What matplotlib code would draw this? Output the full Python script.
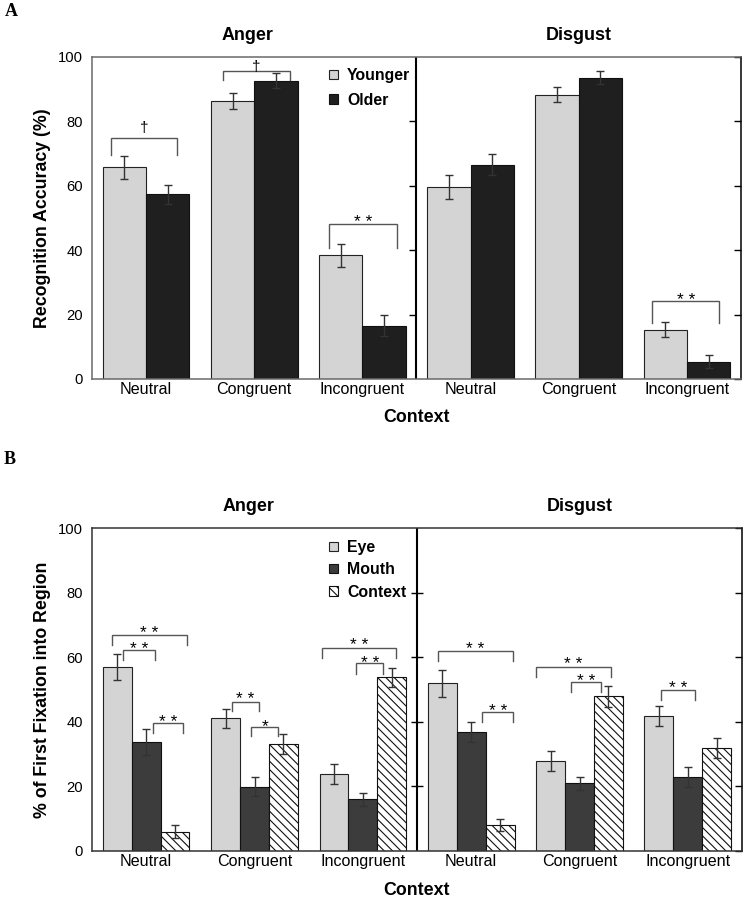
import numpy as np
import matplotlib
matplotlib.use('Agg')
import matplotlib.pyplot as plt

# 数据
conditions = ['Neutral', 'Congruent', 'Incongruent']
emotions = ['Anger', 'Disgust']
tick_labels = conditions * 2

# A: recognition accuracy (Anger N/C/I, Disgust N/C/I)
acc_younger = [65.7, 86.4, 38.4, 59.6, 88.3, 15.3]
acc_younger_err = [3.5, 2.5, 3.6, 3.6, 2.4, 2.3]
acc_older = [57.3, 92.7, 16.6, 66.6, 93.6, 5.4]
acc_older_err = [3.0, 2.2, 3.2, 3.2, 2.1, 2.0]

# B: first fixation into region
fix_eye = [56.9, 41.1, 23.8, 51.9, 27.9, 41.8]
fix_eye_err = [4.1, 3.0, 3.0, 4.1, 3.1, 3.2]
fix_mouth = [33.8, 19.9, 16.0, 36.9, 21.0, 22.8]
fix_mouth_err = [4.0, 3.0, 2.1, 3.1, 2.0, 3.1]
fix_context = [6.0, 33.1, 53.8, 8.0, 47.9, 31.8]
fix_context_err = [2.0, 3.1, 3.0, 1.9, 3.2, 3.1]

# significance brackets: (group, x_left, x_right, top, leg_bottom, label, label_y)
sig_a = [
    (0, -0.32, 0.29, 74.9, 69.5, '\u2020', 76.6),
    (1, -0.29, 0.33, 95.7, 92.9, '\u2020', 95.8),
    (2, -0.31, 0.32, 48.0, 40.6, '* *', 47.7),
    (5, -0.32, 0.30, 24.2, 17.5, '* *', 23.6),
]
sig_b = [
    (0, -0.32, 0.38, 66.9, 63.9, '* *', 66.5),
    (0, -0.21, 0.08, 62.2, 59.2, '* *', 61.5),
    (0, 0.06, 0.34, 39.6, 36.6, '* *', 39.1),
    (1, -0.21, 0.04, 46.1, 43.2, '* *', 46.0),
    (1, -0.03, 0.22, 38.4, 35.5, '*', 37.7),
    (2, -0.38, 0.31, 63.0, 59.7, '* *', 62.9),
    (2, -0.06, 0.19, 58.1, 54.8, '* *', 57.3),
    (3, -0.31, 0.39, 62.0, 58.9, '* *', 61.5),
    (3, 0.10, 0.39, 43.0, 39.9, '* *', 42.5),
    (4, -0.40, 0.29, 57.1, 53.9, '* *', 56.8),
    (4, -0.08, 0.20, 52.4, 49.2, '* *', 51.7),
    (5, -0.25, 0.07, 49.8, 46.6, '* *', 49.5),
]

plt.rcParams['font.family'] = ['Liberation Sans', 'DejaVu Sans']
plt.rcParams['hatch.linewidth'] = 0.8

fig = plt.figure(figsize=(7.46, 9.0), dpi=100)
axA = fig.add_axes([92 / 746, 1 - 379 / 900, 649 / 746, 322 / 900])
axB = fig.add_axes([92 / 746, 1 - 851 / 900, 650 / 746, 323 / 900])

x = np.arange(len(tick_labels))
err_kw = dict(fmt='none', ecolor='#333333', elinewidth=1.0, capsize=2.6, capthick=1.0)

# 面板 A
w = 0.4
axA.bar(x - w / 2, acc_younger, w, color='#d4d4d4', edgecolor='#222222', linewidth=0.8, label='Younger')
axA.bar(x + w / 2, acc_older, w, color='#1f1f1f', edgecolor='#111111', linewidth=0.8, label='Older')
axA.errorbar(x - w / 2, acc_younger, yerr=acc_younger_err, **err_kw)
axA.errorbar(x + w / 2, acc_older, yerr=acc_older_err, **err_kw)

# 面板 B
w3 = 0.8 / 3
axB.bar(x - w3, fix_eye, w3, color='#d4d4d4', edgecolor='#222222', linewidth=0.8, label='Eye')
axB.bar(x, fix_mouth, w3, color='#3c3c3c', edgecolor='#111111', linewidth=0.8, label='Mouth')
axB.bar(x + w3, fix_context, w3, color='white', edgecolor='#111111', linewidth=0.8,
        hatch='\\\\\\\\', label='Context')
axB.errorbar(x - w3, fix_eye, yerr=fix_eye_err, **err_kw)
axB.errorbar(x, fix_mouth, yerr=fix_mouth_err, **err_kw)
axB.errorbar(x + w3, fix_context, yerr=fix_context_err, **err_kw)


def draw_sig(ax, items):
    for g, xl, xr, top, leg, label, ly in items:
        ax.plot([g + xl, g + xl, g + xr, g + xr], [leg, top, top, leg],
                color='#555555', lw=1.0, solid_joinstyle='miter')
        if label == '\u2020':
            ax.text(g + (xl + xr) / 2, ly, label, ha='center', va='baseline', fontsize=11)
        else:
            ax.annotate(label, (g + (xl + xr) / 2, ly), xytext=(0, -1.3),
                        textcoords='offset points', ha='center', va='baseline',
                        fontsize=12.5)


draw_sig(axA, sig_a)
draw_sig(axB, sig_b)

yticks = [0, 20, 40, 60, 80, 100]
title_x = [0.94, 4.0]
for ax, ylabel, spine_col, tick_marker, title_y in [
        (axA, 'Recognition Accuracy (%)', '#6a6a6a', 0, 1.068),
        (axB, '% of First Fixation into Region', '#333333', '_', 1.066)]:
    ax.set_xlim(-0.5, 5.5)
    ax.set_ylim(0, 100)
    ax.set_yticks(yticks)
    ax.set_xticks(x, labels=tick_labels)
    ax.tick_params(axis='x', length=0, pad=2.5, labelsize=11.6)
    ax.tick_params(axis='y', left=False, right=True, direction='in', length=5,
                   width=1, color='black', labelsize=10.6, pad=6.5)
    for s in ['left', 'top', 'bottom']:
        ax.spines[s].set_color(spine_col)
        ax.spines[s].set_linewidth(1.1)
    ax.spines['right'].set_color('black')
    ax.spines['right'].set_linewidth(1.1)
    # 中间分隔线
    ax.axvline(2.5, color='black', lw=1.5)
    ax.plot([2.5] * len(yticks[1:-1]), yticks[1:-1], ls='none', marker=tick_marker,
            ms=5 if tick_marker == 0 else 8, mew=1, color='black', clip_on=False)
    for tx, emo in zip(title_x, emotions):
        ax.text(tx, title_y, emo, transform=ax.get_xaxis_transform(),
                ha='center', va='center', fontsize=12.9, fontweight='bold')
    ax.set_ylabel(ylabel, fontsize=12.8, fontweight='bold', va='center')
    ax.yaxis.set_label_coords(-49 / 649, 0.5)
    ax.set_xlabel('Context', fontsize=12.8, fontweight='bold', va='center')
    ax.xaxis.set_label_coords(0.5, -39 / 322)

legend_kw = dict(loc='upper left', frameon=False, borderpad=0, borderaxespad=0,
                 handlelength=0.55, handleheight=0.55, handletextpad=0.6,
                 prop={'weight': 'bold', 'size': 11.4})
axA.legend(bbox_to_anchor=(0.365, 0.966), labelspacing=0.62, **legend_kw)
axB.legend(bbox_to_anchor=(0.365, 0.963), labelspacing=0.46, **legend_kw)

fig.text(11 / 746, 1 - 11 / 900, 'A', family='Liberation Serif', fontweight='bold',
         fontsize=13, ha='center', va='center')
fig.text(10 / 746, 1 - 460 / 900, 'B', family='Liberation Serif', fontweight='bold',
         fontsize=13, ha='center', va='center')

fig.savefig('out.png', dpi=100)
